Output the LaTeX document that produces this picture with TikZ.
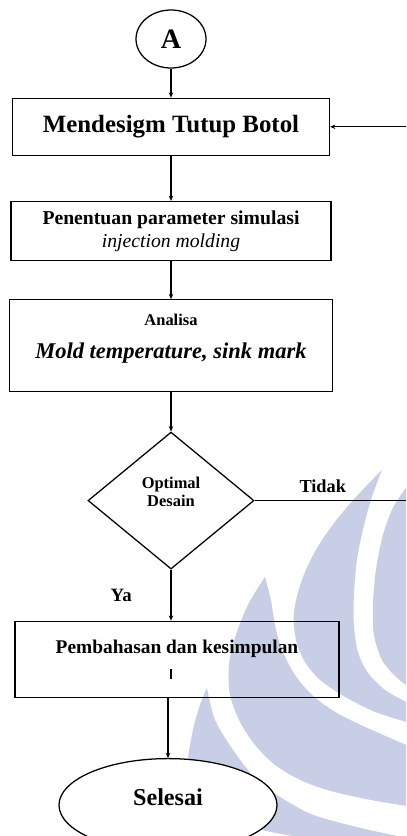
\documentclass[tikz,border=0pt]{standalone}
\usepackage{fontspec}
\setmainfont{Liberation Serif}
\usetikzlibrary{positioning,shapes.geometric,arrows.meta}
\definecolor{markblue}{RGB}{200,206,229}

\begin{document}
\begin{tikzpicture}[auto, node distance=1cm, >={Stealth[length=1.3mm,width=1.1mm]},
    block/.style={draw, line width=0.9pt, align=center, inner sep=2pt},
    link/.style={line width=0.9pt},
    px/.style={x=0.025cm, y=-0.025cm}]
    \useasboundingbox (0,0) rectangle (10.15,-20.9);
    \clip (0,0) rectangle (10.15,-20.9);
    % Watermark
    \begin{scope}[px]
        \fill[markblue] plot[smooth] coordinates {(406,488) (393,508) (383,535) (376,570) (373,605) (374,635) (382,660) (395,676) (406,685)}
            -- (420,685) -- (420,488) -- cycle;
        \fill[markblue] plot[smooth] coordinates {(382,470) (358,495) (335,522) (316,550) (302,580) (294,612) (296,640) (305,662) (320,680) (345,697) (375,712) (406,722)}
            -- (420,722) -- (420,702)
            -- plot[smooth] coordinates {(406,702) (385,690) (368,673) (358,652) (354,625) (354,595) (357,560) (363,530) (371,500) (382,470)} -- cycle;
        \fill[markblue] plot[smooth] coordinates {(265,577) (271,600) (275,625) (282,650) (295,675) (312,695) (335,712) (365,727) (406,745)}
            -- (420,745) -- (420,806)
            -- plot[smooth] coordinates {(406,806) (370,800) (330,791) (300,780) (275,765) (255,745) (240,722) (230,695) (229,665) (236,635) (248,605) (265,577)} -- cycle;
        \fill[markblue] plot[smooth] coordinates {(207,688) (215,720) (233,750) (255,778) (280,797) (313,815) (360,828) (406,838)}
            -- (420,838) -- (420,860)
            -- plot[smooth] coordinates {(406,850) (330,842) (270,832) (228,820) (202,805) (190,785) (188,760) (193,730) (200,705) (207,688)} -- cycle;
    \end{scope}
    % Flow
    \node [draw, ellipse,
        line width=0.9pt,
        minimum width=1.75cm,
        minimum height=1.45cm,
        inner sep=0pt,
        font=\fontsize{20}{22}\selectfont\bfseries
    ] (start) at (4.275,-0.975) {A};
    \node [block,
        minimum width=7.925cm,
        minimum height=1.425cm,
        below=0.725cm of start,
        font=\fontsize{17.7}{20}\selectfont\bfseries
    ] (design) {Mendesigm Tutup Botol};
    \node [block,
        minimum width=8cm,
        minimum height=1.475cm,
        below=1.125cm of design,
        font=\fontsize{14}{16.4}\selectfont
    ] (param) {\textbf{Penentuan parameter simulasi}\\ \textit{injection molding}};
    \node [block,
        minimum width=8.075cm,
        minimum height=2.3cm,
        below=0.95cm of param,
        font=\fontsize{16}{23.5}\selectfont
    ] (analysis) {{\fontsize{11.7}{14}\selectfont\textbf{Analisa}}\\ \textbf{\textit{Mold temperature, sink mark}}\\[-10.5pt]\mbox{}};
    \node [draw, diamond,
        line width=0.9pt,
        aspect=1.2,
        inner sep=0pt,
        minimum width=4.15cm,
        minimum height=3.425cm,
        below=0.975cm of analysis,
        align=center,
        font=\fontsize{11.7}{12.8}\selectfont\bfseries
    ] (check) {Optimal\\Desain\\ \mbox{}};
    \node [block,
        minimum width=8.1cm,
        minimum height=1.9cm,
        below=1.275cm of check,
        xshift=0.15cm,
        font=\fontsize{13.8}{18}\selectfont
    ] (discuss) {\textbf{Pembahasan dan kesimpulan}\\ \hspace*{-0.28cm}\rule{1.3pt}{7pt}};
    \node [draw, ellipse, fill=white,
        line width=0.9pt,
        minimum width=5.45cm,
        minimum height=2.325cm,
        text depth=12pt,
        below=1.5cm of discuss,
        xshift=-0.225cm,
        font=\fontsize{17.2}{20}\selectfont\bfseries
    ] (finish) {Selesai};
    \coordinate (edge) at (10.15,0);
    \coordinate (backin) at (design.east -| edge);
    \coordinate (tidakend) at (check.east -| edge);
    % Arrows with text label
    \draw[->, link] (start.south) -- (design.north);
    \draw[->, link] (design.south) -- (param.north);
    \draw[->, link] (param.south) -- (analysis.north);
    \draw[->, link] (analysis.south) -- (check.north);
    \draw[->, link] (check.south) -- (discuss.north -| check.south)
    node[midway, left=0.85cm, font=\fontsize{13.4}{15}\selectfont\bfseries]{Ya};
    \draw[link] (check.east) -- (tidakend)
    node[pos=0.45, above=2pt, font=\fontsize{13}{15}\selectfont\bfseries]{Tidak};
    \draw[->, link] (backin) -- (design.east);
    \draw[->, link] (discuss.south -| finish.north) -- (finish.north);

\end{tikzpicture}
\end{document}
